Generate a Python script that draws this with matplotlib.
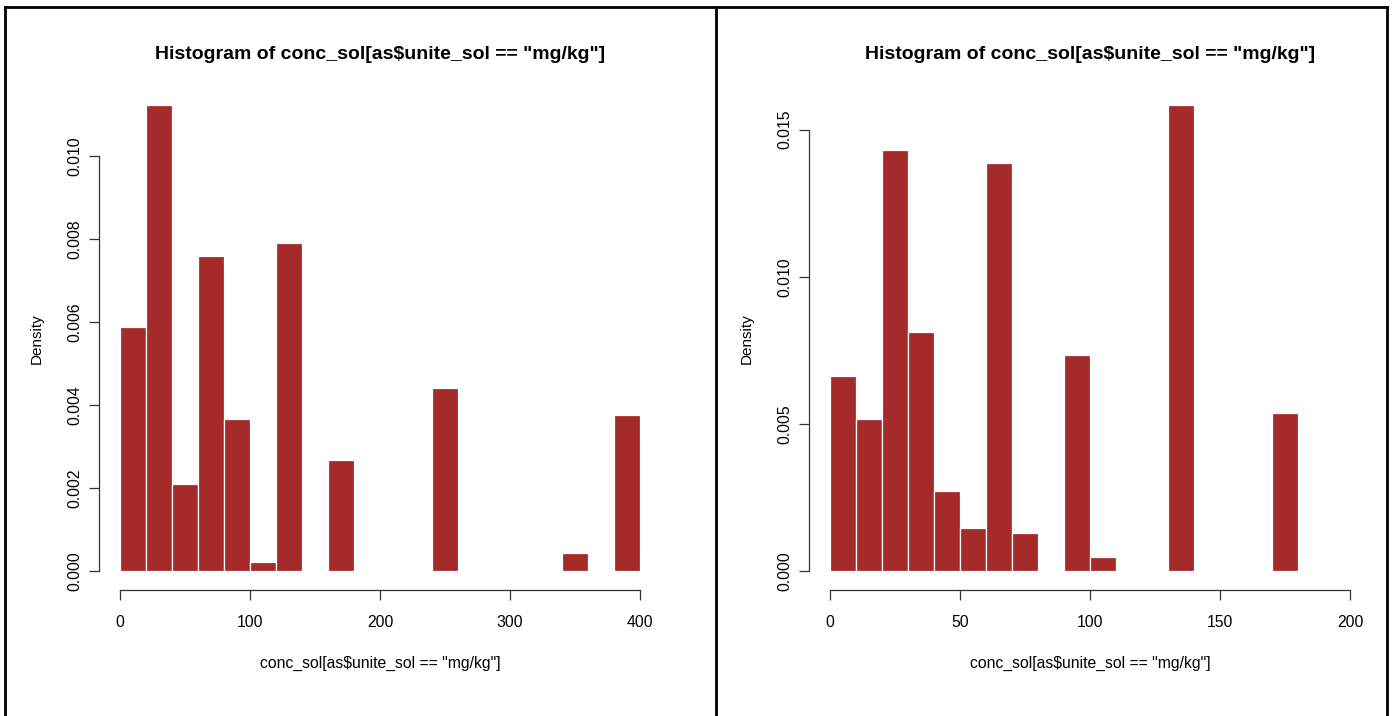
import numpy as np
import matplotlib
matplotlib.use('Agg')
import matplotlib.pyplot as plt
from matplotlib.lines import Line2D

plt.rcParams['font.family'] = ['Liberation Sans', 'DejaVu Sans']

# left histogram: bins of 20 from 0 to 400
left_edges = np.arange(0, 400, 20)
left_density = [0.00589, 0.01122, 0.00210, 0.00758, 0.00367, 0.00022, 0.00791, 0.0,
                0.00268, 0.0, 0.0, 0.0, 0.00441, 0.0, 0.0, 0.0, 0.0, 0.00043, 0.0, 0.00375]
left_xticks = [0, 100, 200, 300, 400]
left_yticks = [0.000, 0.002, 0.004, 0.006, 0.008, 0.010]

# right histogram: bins of 10 from 0 to 180
right_edges = np.arange(0, 180, 10)
right_density = [0.00663, 0.00517, 0.01429, 0.00813, 0.00272, 0.00146, 0.01388, 0.00129,
                 0.0, 0.00735, 0.00048, 0.0, 0.0, 0.01582, 0.0, 0.0, 0.0, 0.00537]
right_xticks = [0, 50, 100, 150, 200]
right_yticks = [0.000, 0.005, 0.010, 0.015]

title = 'Histogram of conc_sol[as$unite_sol == "mg/kg"]'
xlabel = 'conc_sol[as$unite_sol == "mg/kg"]'

W, H = 1396, 716
fig = plt.figure(figsize=(W / 100, H / 100), dpi=100)


def panel(left_px, edges, dens, width, xticks, yticks, ylabels):
    ax = fig.add_axes([left_px / W, (H - 589.6) / H, 561.6 / W, 502.8 / H])
    ax.bar(edges, dens, width=width, align='edge', color='#A52A2A',
           edgecolor='white', linewidth=0.9)
    span = xticks[-1] - xticks[0]
    ax.set_xlim(xticks[0] - 0.04 * span, xticks[-1] + 0.04 * span)
    top = max(dens)
    ax.set_ylim(-0.04 * top, 1.04 * top)
    for s in ['top', 'right']:
        ax.spines[s].set_visible(False)
    ax.spines['left'].set_bounds(yticks[0], yticks[-1])
    ax.spines['bottom'].set_bounds(xticks[0], xticks[-1])
    for s in ['left', 'bottom']:
        ax.spines[s].set_linewidth(0.9)
        ax.spines[s].set_color('#333333')
    ax.set_xticks(xticks)
    ax.set_xticklabels([str(t) for t in xticks])
    ax.set_yticks(yticks)
    ax.set_yticklabels(ylabels, rotation=90, va='center')
    ax.tick_params(length=7, width=0.9, labelsize=11.3, color='#333333')
    ax.tick_params(axis='x', pad=11)
    ax.tick_params(axis='y', pad=5)
    ax.set_title(title, fontsize=14, fontweight='bold', pad=20)
    ax.set_xlabel(xlabel, fontsize=11.3, labelpad=19)
    ax.set_ylabel('Density', fontsize=11, labelpad=17)
    return ax


panel(99.2, left_edges, left_density, 20, left_xticks, left_yticks,
      ['%.3f' % v for v in left_yticks])
panel(809.2, right_edges, right_density, 10, right_xticks, right_yticks,
      ['%.3f' % v for v in right_yticks])

# frame lines around the panels
lw = 2.0
fig.add_artist(Line2D([5 / W, 1387 / W], [(H - 7) / H, (H - 7) / H], color='black', lw=lw))
fig.add_artist(Line2D([5 / W, 5 / W], [0, (H - 7) / H], color='black', lw=lw))
fig.add_artist(Line2D([1387 / W, 1387 / W], [0, (H - 7) / H], color='black', lw=lw))
fig.add_artist(Line2D([716 / W, 716 / W], [0, (H - 7) / H], color='black', lw=lw))

fig.savefig('out.png', dpi=100)
